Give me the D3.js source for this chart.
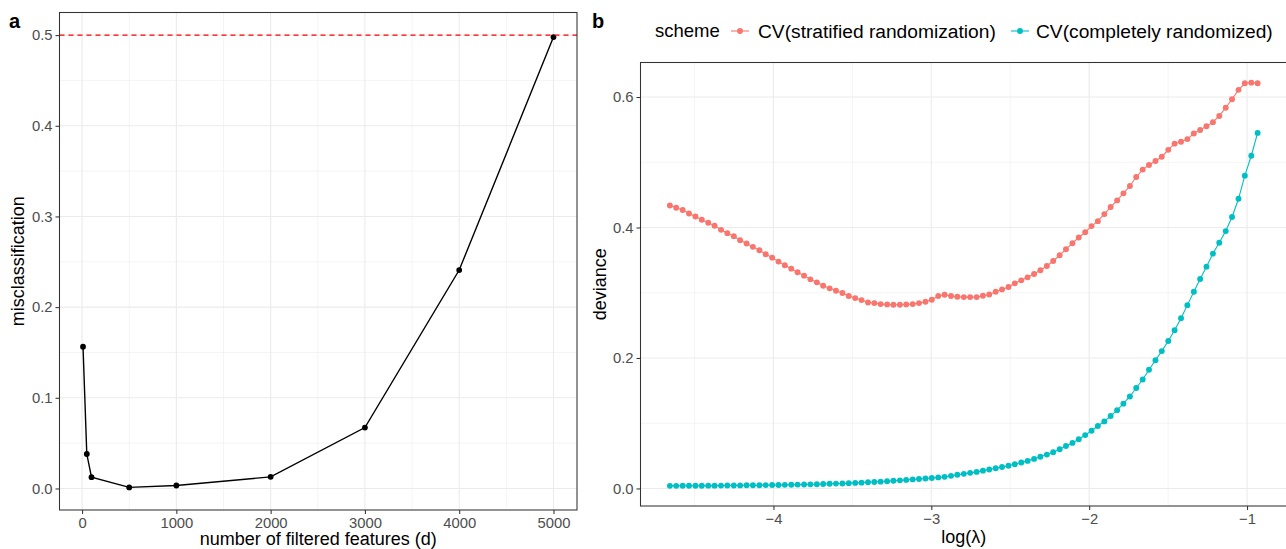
<!DOCTYPE html>
<html>
<head>
<meta charset="utf-8">
<script src="https://cdn.jsdelivr.net/npm/d3@7/dist/d3.min.js"></script>
<style>
  html, body { margin: 0; padding: 0; background: #fff; }
  svg { display: block; font-family: "Liberation Sans", Arial, Helvetica, sans-serif; }
</style>
</head>
<body>
<svg id="chart" width="1286" height="549"></svg>
<script>
// ---------------- Panel a data ----------------
const featureCounts = [10, 50, 100, 500, 1000, 2000, 3000, 4000, 5000];
const misclassification = [0.1563, 0.038, 0.0125, 0.0012, 0.0033, 0.0128, 0.0672, 0.2409, 0.4978];
const thresholdLine = 0.5;
const aXTicks = [0, 1000, 2000, 3000, 4000, 5000];
const aXMinor = [500, 1500, 2500, 3500, 4500];
const aYTicks = [0.0, 0.1, 0.2, 0.3, 0.4, 0.5];
const aYMinor = [0.05, 0.15, 0.25, 0.35, 0.45];

// ---------------- Panel b data ----------------
const logLambda = [-4.656,-4.616,-4.575,-4.535,-4.494,-4.454,-4.413,-4.373,-4.332,-4.292,
  -4.251,-4.211,-4.170,-4.130,-4.089,-4.049,-4.008,-3.968,-3.928,-3.887,
  -3.847,-3.806,-3.766,-3.725,-3.685,-3.644,-3.604,-3.563,-3.523,-3.482,
  -3.442,-3.401,-3.361,-3.321,-3.280,-3.240,-3.199,-3.159,-3.118,-3.078,
  -3.037,-2.997,-2.956,-2.916,-2.875,-2.835,-2.794,-2.754,-2.713,-2.673,
  -2.633,-2.592,-2.552,-2.511,-2.471,-2.430,-2.390,-2.349,-2.309,-2.268,
  -2.228,-2.187,-2.147,-2.106,-2.066,-2.025,-1.985,-1.945,-1.904,-1.864,
  -1.823,-1.783,-1.742,-1.702,-1.661,-1.621,-1.580,-1.540,-1.499,-1.459,
  -1.418,-1.378,-1.337,-1.297,-1.257,-1.216,-1.176,-1.135,-1.095,-1.054,
  -1.014,-0.973,-0.933];
const devianceStratified = [0.4338,0.4303,0.4267,0.4215,0.4169,0.4118,0.4072,0.4026,0.3964,0.3913,
  0.3867,0.3805,0.3754,0.3703,0.3651,0.3590,0.3538,0.3477,0.3421,0.3369,
  0.3313,0.3262,0.3205,0.3159,0.3108,0.3067,0.3031,0.2995,0.2949,0.2918,
  0.2887,0.2851,0.2841,0.2826,0.2821,0.2815,0.2815,0.2821,0.2826,0.2841,
  0.2862,0.2892,0.2949,0.2969,0.2949,0.2938,0.2933,0.2933,0.2933,0.2954,
  0.2974,0.3015,0.3051,0.3087,0.3144,0.3190,0.3236,0.3287,0.3344,0.3410,
  0.3487,0.3574,0.3667,0.3759,0.3846,0.3928,0.4021,0.4097,0.4205,0.4313,
  0.4415,0.4523,0.4636,0.4774,0.4887,0.4959,0.5020,0.5085,0.5190,0.5285,
  0.5315,0.5355,0.5440,0.5495,0.5552,0.5615,0.5710,0.5835,0.5965,0.6110,
  0.6210,0.6220,0.6210];
const devianceComplete = [0.0040,0.0040,0.0041,0.0041,0.0042,0.0042,0.0043,0.0043,0.0044,0.0045,
  0.0046,0.0047,0.0048,0.0049,0.0050,0.0051,0.0052,0.0054,0.0055,0.0057,
  0.0059,0.0061,0.0063,0.0065,0.0068,0.0071,0.0074,0.0077,0.0081,0.0085,
  0.0089,0.0094,0.0099,0.0104,0.0110,0.0117,0.0124,0.0131,0.0139,0.0146,
  0.0153,0.0161,0.0169,0.0178,0.0193,0.0209,0.0224,0.0239,0.0254,0.0273,
  0.0290,0.0310,0.0328,0.0348,0.0372,0.0397,0.0422,0.0453,0.0487,0.0519,
  0.0555,0.0600,0.0650,0.0698,0.0753,0.0818,0.0885,0.0957,0.1028,0.1110,
  0.1200,0.1300,0.1410,0.1540,0.1670,0.1820,0.1965,0.2105,0.2260,0.2425,
  0.2610,0.2810,0.3015,0.3210,0.3400,0.3600,0.3765,0.3945,0.4160,0.4440,
  0.4795,0.5100,0.5450];
const seriesNames = ["CV(stratified randomization)", "CV(completely randomized)"];
const seriesColors = ["#F8766D", "#00BFC4"];
const bXTicks = [-4, -3, -2, -1];
const bXMinor = [-4.5, -3.5, -2.5, -1.5];
const bYTicks = [0.0, 0.2, 0.4, 0.6];
const bYMinor = [0.1, 0.3, 0.5];

// ---------------- helpers ----------------
const svg = d3.select("#chart");
const GRID = "#EBEBEB", BORDER = "#333333", TICKTXT = "#4D4D4D";
const TICKFS = "14.8px", TITLEFS = "18px", LEGTITLEFS = "18.5px", LEGFS = "19.2px";

function expand(ext) { const d = (ext[1] - ext[0]) * 0.05; return [ext[0] - d, ext[1] + d]; }

function panel(box, x, y, xMaj, xMin, yMaj, yMin) {
  const g = svg.append("g");
  g.append("rect").attr("x", box.l).attr("y", box.t).attr("width", box.r - box.l).attr("height", box.b - box.t).attr("fill", "#fff");
  const grid = g.append("g");
  grid.selectAll(".xmin").data(xMin).join("line")
    .attr("x1", d => x(d)).attr("x2", d => x(d)).attr("y1", box.t).attr("y2", box.b)
    .attr("stroke", GRID).attr("stroke-width", 0.55);
  grid.selectAll(".ymin").data(yMin).join("line")
    .attr("y1", d => y(d)).attr("y2", d => y(d)).attr("x1", box.l).attr("x2", box.r)
    .attr("stroke", GRID).attr("stroke-width", 0.55);
  grid.selectAll(".xmaj").data(xMaj).join("line")
    .attr("x1", d => x(d)).attr("x2", d => x(d)).attr("y1", box.t).attr("y2", box.b)
    .attr("stroke", GRID).attr("stroke-width", 1.1);
  grid.selectAll(".ymaj").data(yMaj).join("line")
    .attr("y1", d => y(d)).attr("y2", d => y(d)).attr("x1", box.l).attr("x2", box.r)
    .attr("stroke", GRID).attr("stroke-width", 1.1);
  return g;
}

function axes(box, x, y, xMaj, yMaj, xfmt, yfmt) {
  const ax = svg.append("g").attr("transform", `translate(0,${box.b})`)
    .call(d3.axisBottom(x).tickValues(xMaj).tickFormat(xfmt).tickSize(4).tickPadding(3));
  const ay = svg.append("g").attr("transform", `translate(${box.l},0)`)
    .call(d3.axisLeft(y).tickValues(yMaj).tickFormat(yfmt).tickSize(4).tickPadding(3));
  [ax, ay].forEach(a => {
    a.select(".domain").remove();
    a.selectAll(".tick line").attr("stroke", BORDER).attr("stroke-width", 1.05);
    a.selectAll(".tick text").attr("fill", TICKTXT).style("font-size", TICKFS)
      .style("font-family", '"Liberation Sans", Arial, sans-serif');
  });
}

function border(box) {
  svg.append("rect").attr("x", box.l).attr("y", box.t).attr("width", box.r - box.l).attr("height", box.b - box.t)
    .attr("fill", "none").attr("stroke", BORDER).attr("stroke-width", 1.05);
}

// ---------------- Panel a ----------------
const boxA = { l: 59.5, r: 577, t: 12.5, b: 510 };
const xA = d3.scaleLinear().domain(expand(d3.extent(featureCounts))).range([boxA.l, boxA.r]);
const yA = d3.scaleLinear().domain(expand(d3.extent(misclassification.concat([thresholdLine])))).range([boxA.b, boxA.t]);
const gA = panel(boxA, xA, yA, aXTicks, aXMinor, aYTicks, aYMinor);
const ptsA = featureCounts.map((d, i) => [d, misclassification[i]]);
gA.append("path").datum(ptsA)
  .attr("d", d3.line().x(d => xA(d[0])).y(d => yA(d[1])))
  .attr("fill", "none").attr("stroke", "#000").attr("stroke-width", 1.4);
gA.selectAll(".ptA").data(ptsA).join("circle")
  .attr("cx", d => xA(d[0])).attr("cy", d => yA(d[1])).attr("r", 2.9).attr("fill", "#000");
gA.append("line").attr("x1", boxA.l).attr("x2", boxA.r).attr("y1", yA(thresholdLine)).attr("y2", yA(thresholdLine))
  .attr("stroke", "#FF0000").attr("stroke-width", 1.2).attr("stroke-dasharray", "5,4");
border(boxA);
axes(boxA, xA, yA, aXTicks, aYTicks, d3.format("d"), d3.format(".1f"));

svg.append("text").attr("x", (boxA.l + boxA.r) / 2).attr("y", 544.5).attr("text-anchor", "middle")
  .style("font-size", TITLEFS).attr("fill", "#000").text("number of filtered features (d)");
svg.append("text").attr("transform", `translate(24,${(boxA.t + boxA.b) / 2}) rotate(-90)`).attr("text-anchor", "middle")
  .style("font-size", TITLEFS).attr("fill", "#000").text("misclassification");
svg.append("text").attr("x", 9).attr("y", 28).style("font-size", "20px").style("font-weight", "bold").text("a");

// ---------------- Panel b ----------------
const boxB = { l: 640.5, r: 1287, t: 62.5, b: 506 };
const xB = d3.scaleLinear().domain(expand(d3.extent(logLambda))).range([boxB.l, boxB.r]);
const yB = d3.scaleLinear().domain(expand(d3.extent(devianceStratified.concat(devianceComplete)))).range([boxB.b, boxB.t]);
const gB = panel(boxB, xB, yB, bXTicks, bXMinor, bYTicks, bYMinor);
[devianceStratified, devianceComplete].forEach((vals, k) => {
  const pts = logLambda.map((d, i) => [d, vals[i]]);
  gB.append("path").datum(pts)
    .attr("d", d3.line().x(d => xB(d[0])).y(d => yB(d[1])))
    .attr("fill", "none").attr("stroke", seriesColors[k]).attr("stroke-width", 1.1);
  gB.selectAll(".pt" + k).data(pts).join("circle")
    .attr("cx", d => xB(d[0])).attr("cy", d => yB(d[1])).attr("r", 2.95).attr("fill", seriesColors[k]);
});
border(boxB);
axes(boxB, xB, yB, bXTicks, bYTicks, d3.format("d"), d3.format(".1f"));
svg.selectAll("g .tick text").each(function () {
  const t = d3.select(this); t.text(t.text().replace("-", "\u2212"));
});

svg.append("text").attr("x", (boxB.l + boxB.r) / 2).attr("y", 543).attr("text-anchor", "middle")
  .style("font-size", TITLEFS).attr("fill", "#000").text("log(\u03BB)");
svg.append("text").attr("transform", `translate(606,${(boxB.t + boxB.b) / 2}) rotate(-90)`).attr("text-anchor", "middle")
  .style("font-size", TITLEFS).attr("fill", "#000").text("deviance");
svg.append("text").attr("x", 592).attr("y", 28).style("font-size", "20px").style("font-weight", "bold").text("b");

// legend
const legY = 31;
svg.append("text").attr("x", 655).attr("y", legY).attr("dy", "0.35em").style("font-size", LEGTITLEFS).text("scheme");
const keyX = [740, 1020];
const labX = [758, 1036];
seriesNames.forEach((name, k) => {
  svg.append("line").attr("x1", keyX[k] - 9).attr("x2", keyX[k] + 9).attr("y1", legY).attr("y2", legY)
    .attr("stroke", seriesColors[k]).attr("stroke-width", 1.1);
  svg.append("circle").attr("cx", keyX[k]).attr("cy", legY).attr("r", 2.95).attr("fill", seriesColors[k]);
  svg.append("text").attr("x", labX[k]).attr("y", legY).attr("dy", "0.35em").style("font-size", LEGFS).text(name);
});
</script>
</body>
</html>
